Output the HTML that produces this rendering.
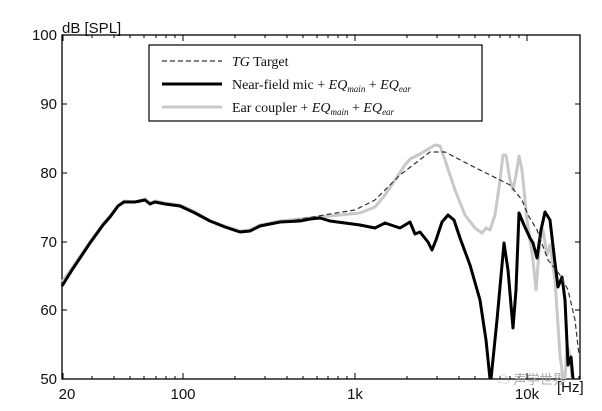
<!DOCTYPE html>
<html><head><meta charset="utf-8"><style>
body{margin:0;background:#fff;width:602px;height:406px;overflow:hidden}
text{font-family:"Liberation Sans",sans-serif;font-size:15px;fill:#111}
.s{font-family:"Liberation Serif",serif;font-size:14px}
</style></head><body>
<svg width="602" height="406" viewBox="0 0 602 406">
<rect x="62" y="35" width="518" height="344" fill="none" stroke="#000" stroke-width="1.3"/>
<g stroke="#000" stroke-width="1">
<path id="t" d="M63 379v-6M183 379v-6M355 379v-6M527 379v-6M63 35v6M183 35v6M355 35v6M527 35v6"/>
<path d="M92 379v-3M114 379v-3M130 379v-3M144 379v-3M156 379v-3M166 379v-3M175 379v-3M235 379v-3M265 379v-3M287 379v-3M303 379v-3M317 379v-3M328 379v-3M338 379v-3M347 379v-3M407 379v-3M437 379v-3M459 379v-3M475 379v-3M489 379v-3M500 379v-3M510 379v-3M519 379v-3M579 379v-3
M92 35v3M114 35v3M130 35v3M144 35v3M156 35v3M166 35v3M175 35v3M235 35v3M265 35v3M287 35v3M303 35v3M317 35v3M328 35v3M338 35v3M347 35v3M407 35v3M437 35v3M459 35v3M475 35v3M489 35v3M500 35v3M510 35v3M519 35v3"/>
<path d="M62 104h5M62 173h5M62 242h5M62 310h5M580 104h-5M580 173h-5M580 242h-5M580 310h-5"/>
</g>
<text x="57" y="40" text-anchor="end">100</text>
<text x="57" y="109" text-anchor="end">90</text>
<text x="57" y="178" text-anchor="end">80</text>
<text x="57" y="247" text-anchor="end">70</text>
<text x="57" y="315" text-anchor="end">60</text>
<text x="57" y="384" text-anchor="end">50</text>
<text x="62" y="33">dB [SPL]</text>
<text x="67" y="399" text-anchor="middle">20</text>
<text x="183" y="399" text-anchor="middle">100</text>
<text x="355" y="399" text-anchor="middle">1k</text>
<text x="527" y="399" text-anchor="middle">10k</text>
<text x="557" y="392">[Hz]</text>
<text x="497" y="384" style="fill:#aaa;font-family:'Liberation Sans','Noto Sans CJK SC',sans-serif;font-size:13px">☁ 声学世界</text>
<g fill="none" stroke-linejoin="round">
<path stroke="#c8c8c8" stroke-width="3" d="M62 282L72 268L90 242L103 224L110 216L118 206L124 201L135 202L145 199L150 203L155 201L165 203L180 205L195 212L210 221L225 226L240 231L250 230L260 225L280 221L300 219L320 217L340 215L360 213L375 207L385 195L395 180L405 165L410 159L420 154L435 145L440 146L445 160L455 190L465 215L475 228L482 233L486 228L490 230L495 215L500 180L503 155L506 155L510 180L513 190L516 175L519 156L522 170L527 220L533 260L536 290L540 240L543 230L547 255L550 245L555 280L560 355L563 379M565 379L567 345L570 355L572 379"/>
<path stroke="#000" stroke-width="3" d="M62 286L72 270L90 243L103 225L110 217L118 206L124 202L135 202L145 200L150 204L155 202L165 204L180 206L195 213L210 221L225 227L240 232L250 231L260 226L280 222L300 221L310 219L320 218L330 221L345 223L360 225L375 228L385 223L400 228L410 222L415 234L420 232L428 242L432 250L436 240L442 222L448 215L454 220L460 238L470 265L480 300L486 340L490 379M491 379L497 320L504 243L508 270L513 328L516 290L519 213L524 225L530 238L533 243L537 258L541 230L545 212L550 220L555 263L558 287L562 277L565 300L568 365L571 357L573 379"/>
<path stroke="#333" stroke-width="1.2" stroke-dasharray="5,3" d="M295 220L330 214L355 210L375 200L400 175L430 152L445 152L470 165L490 175L510 185L522 200L528 215L537 230L548 260L560 275L568 290L575 320L579 355"/>
</g>
<rect x="149" y="45" width="333" height="76" fill="#fff" stroke="#000" stroke-width="1.2"/>
<path d="M162 61h60" stroke="#333" stroke-width="1.2" stroke-dasharray="5,3"/>
<path d="M162 84h60" stroke="#000" stroke-width="3"/>
<path d="M162 107h60" stroke="#c8c8c8" stroke-width="3"/>
<text class="s" x="232" y="66"><tspan font-style="italic">TG</tspan> Target</text>
<text class="s" x="232" y="89">Near-field mic + <tspan font-style="italic">EQ</tspan><tspan font-style="italic" font-size="9" dy="3">main</tspan><tspan dy="-3"> + </tspan><tspan font-style="italic">EQ</tspan><tspan font-style="italic" font-size="9" dy="3">ear</tspan></text>
<text class="s" x="232" y="112">Ear coupler + <tspan font-style="italic">EQ</tspan><tspan font-style="italic" font-size="9" dy="3">main</tspan><tspan dy="-3"> + </tspan><tspan font-style="italic">EQ</tspan><tspan font-style="italic" font-size="9" dy="3">ear</tspan></text>
</svg>
</body></html>
